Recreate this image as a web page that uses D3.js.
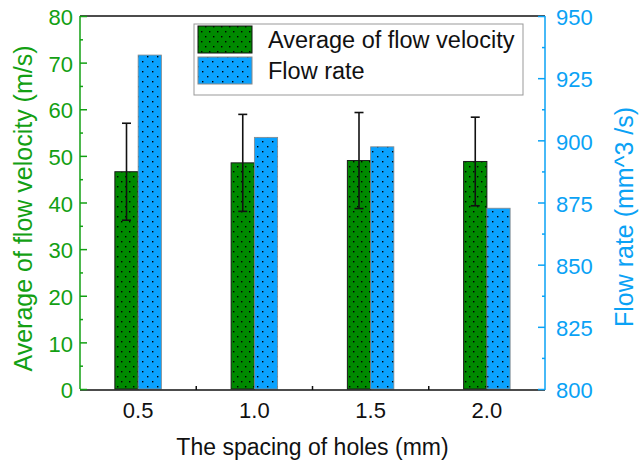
<!DOCTYPE html>
<html>
<head>
<meta charset="utf-8">
<script src="https://cdn.jsdelivr.net/npm/d3@7"></script>
<style>
  body { margin: 0; background: #fff; }
  text { font-family: Arial, "Liberation Sans", sans-serif; }
</style>
</head>
<body>
<div id="corpo"></div>
<script>
// data
var spacings = ["0.5", "1.0", "1.5", "2.0"];
var velocity = [46.6, 48.5, 49.0, 48.8];
var velocityErr = [10.4, 10.4, 10.3, 9.5];
var flowRate = [934.3, 901.2, 897.4, 872.7];
var leftTicks = [0, 10, 20, 30, 40, 50, 60, 70, 80];
var rightTicks = [800, 825, 850, 875, 900, 925, 950];

var green = "#008a00", greenAxis = "#13a013";
var blue = "#0aa2ff", blueAxis = "#0aa2f5";

var width = 640, height = 465;
var pLeft = 80, pRight = 545, pTop = 16, pBottom = 389;

var svg = d3.select("#corpo").append("svg")
    .attr("width", width)
    .attr("height", height);

// dotted fills
var defs = svg.append("defs");
var pg = defs.append("pattern").attr("id", "dotGreen")
    .attr("patternUnits", "userSpaceOnUse").attr("width", 8).attr("height", 10);
pg.append("rect").attr("width", 8).attr("height", 10).attr("fill", green);
pg.append("rect").attr("x", 1).attr("y", 1).attr("width", 1.4).attr("height", 1.4).attr("fill", "#000");
pg.append("rect").attr("x", 5).attr("y", 6).attr("width", 1.4).attr("height", 1.4).attr("fill", "#000");

var pb = defs.append("pattern").attr("id", "dotBlue")
    .attr("patternUnits", "userSpaceOnUse").attr("width", 10).attr("height", 10);
pb.append("rect").attr("width", 10).attr("height", 10).attr("fill", blue);
pb.append("rect").attr("x", 2).attr("y", 1).attr("width", 1.4).attr("height", 1.4).attr("fill", "#000");
pb.append("rect").attr("x", 7).attr("y", 6).attr("width", 1.4).attr("height", 1.4).attr("fill", "#000");

var x = d3.scaleBand().domain(spacings).range([pLeft, pRight]).padding(0);
var yL = d3.scaleLinear().domain([0, 80]).range([pBottom, pTop]);
var yR = d3.scaleLinear().domain([800, 950]).range([pBottom, pTop]);
var barW = x.bandwidth() * 0.2;

// bars
var g = svg.selectAll(".grp")
    .data(spacings)
    .enter().append("g")
    .attr("class", "grp");

g.append("rect")
    .attr("x", function(d) { return x(d) + x.bandwidth() / 2 - barW; })
    .attr("y", function(d, i) { return yL(velocity[i]); })
    .attr("width", barW)
    .attr("height", function(d, i) { return pBottom - yL(velocity[i]); })
    .style("fill", "url(#dotGreen)")
    .style("stroke", "#1a1a1a")
    .style("stroke-width", 1);

g.append("rect")
    .attr("x", function(d) { return x(d) + x.bandwidth() / 2; })
    .attr("y", function(d, i) { return yR(flowRate[i]); })
    .attr("width", barW)
    .attr("height", function(d, i) { return pBottom - yR(flowRate[i]); })
    .style("fill", "url(#dotBlue)")
    .style("stroke", "#888")
    .style("stroke-width", 0.8);

// error bars
var ex = function(d) { return x(d) + x.bandwidth() / 2 - barW / 2; };
g.append("line")
    .attr("x1", ex).attr("x2", ex)
    .attr("y1", function(d, i) { return yL(velocity[i] + velocityErr[i]); })
    .attr("y2", function(d, i) { return yL(velocity[i] - velocityErr[i]); })
    .style("stroke", "#111").style("stroke-width", 1.6);
[1, -1].forEach(function(s) {
    g.append("line")
        .attr("x1", function(d) { return ex(d) - 4.5; })
        .attr("x2", function(d) { return ex(d) + 4.5; })
        .attr("y1", function(d, i) { return yL(velocity[i] + s * velocityErr[i]); })
        .attr("y2", function(d, i) { return yL(velocity[i] + s * velocityErr[i]); })
        .style("stroke", "#111").style("stroke-width", 1.6);
});

// frame top and bottom
svg.append("line").attr("x1", pLeft).attr("x2", pRight).attr("y1", pTop).attr("y2", pTop)
    .style("stroke", "#111").style("stroke-width", 1.5);
svg.append("line").attr("x1", pLeft).attr("x2", pRight).attr("y1", pBottom + 1).attr("y2", pBottom + 1)
    .style("stroke", "#111").style("stroke-width", 1.5);

// bottom axis: small ticks between groups, labels at centres
svg.selectAll(".xminor")
    .data(spacings.slice(1))
    .enter().append("line")
    .attr("x1", function(d) { return x(d); })
    .attr("x2", function(d) { return x(d); })
    .attr("y1", pBottom + 1).attr("y2", pBottom - 3)
    .style("stroke", "#111").style("stroke-width", 1.5);
svg.selectAll(".xlab")
    .data(spacings)
    .enter().append("text")
    .attr("x", function(d) { return x(d) + x.bandwidth() / 2; })
    .attr("y", 418)
    .attr("text-anchor", "middle")
    .style("font-size", "22px")
    .style("fill", "#111")
    .text(function(d) { return d; });
svg.append("text")
    .attr("x", (pLeft + pRight) / 2)
    .attr("y", 455)
    .attr("text-anchor", "middle")
    .style("font-size", "23px")
    .style("fill", "#111")
    .text("The spacing of holes (mm)");

// left axis
var axL = svg.append("g").attr("transform", "translate(" + pLeft + ",0)")
    .call(d3.axisRight(yL).tickValues(d3.range(0, 81, 5)).tickSize(3).tickFormat(""));
axL.selectAll("line").style("stroke", greenAxis).style("stroke-width", 1.5)
    .attr("x2", function(d) { return d % 10 === 0 ? 7 : 3; });
axL.select(".domain").remove();
svg.append("line").attr("x1", pLeft).attr("x2", pLeft).attr("y1", pTop).attr("y2", pBottom)
    .style("stroke", greenAxis).style("stroke-width", 1.5);
svg.selectAll(".ylab")
    .data(leftTicks)
    .enter().append("text")
    .attr("x", pLeft - 7)
    .attr("y", function(d) { return yL(d); })
    .attr("dy", "0.42em")
    .attr("text-anchor", "end")
    .style("font-size", "22px")
    .style("fill", greenAxis)
    .text(function(d) { return d; });
svg.append("text")
    .attr("transform", "translate(32," + ((pTop + pBottom) / 2 + 6) + ") rotate(-90)")
    .attr("text-anchor", "middle")
    .style("font-size", "25px")
    .style("fill", greenAxis)
    .text("Average of flow velocity (m/s)");

// right axis
var axR = svg.append("g").attr("transform", "translate(" + pRight + ",0)")
    .call(d3.axisLeft(yR).tickValues(d3.range(800, 951, 12.5)).tickSize(3).tickFormat(""));
axR.selectAll("line").style("stroke", blueAxis).style("stroke-width", 1.5)
    .attr("x2", function(d) { return d % 25 === 0 ? -7 : -3; });
axR.select(".domain").remove();
svg.append("line").attr("x1", pRight).attr("x2", pRight).attr("y1", pTop).attr("y2", pBottom + 1)
    .style("stroke", blueAxis).style("stroke-width", 1.5);
svg.selectAll(".yrlab")
    .data(rightTicks)
    .enter().append("text")
    .attr("x", pRight + 11)
    .attr("y", function(d) { return yR(d); })
    .attr("dy", "0.42em")
    .attr("text-anchor", "start")
    .style("font-size", "22px")
    .style("fill", blueAxis)
    .text(function(d) { return d; });
svg.append("text")
    .attr("transform", "translate(633," + 217 + ") rotate(-90)")
    .attr("text-anchor", "middle")
    .style("font-size", "25px")
    .style("fill", blueAxis)
    .text("Flow rate (mm^3 /s)");

// legend
var leg = svg.append("g");
leg.append("rect").attr("x", 194).attr("y", 24).attr("width", 329).attr("height", 71)
    .style("fill", "#fff").style("stroke", "#999").style("stroke-width", 1);
var legItems = [
    { name: "Average of flow velocity", fill: "url(#dotGreen)", stroke: "#111" },
    { name: "Flow rate", fill: "url(#dotBlue)", stroke: "#888" }
];
legItems.forEach(function(it, i) {
    leg.append("rect").attr("x", 198).attr("y", 26 + i * 31).attr("width", 54).attr("height", 27)
        .style("fill", it.fill).style("stroke", it.stroke).style("stroke-width", 1);
    leg.append("text").attr("x", 268).attr("y", 48 + i * 31)
        .style("font-size", "23.5px").style("fill", "#111")
        .text(it.name);
});
</script>
</body>
</html>
